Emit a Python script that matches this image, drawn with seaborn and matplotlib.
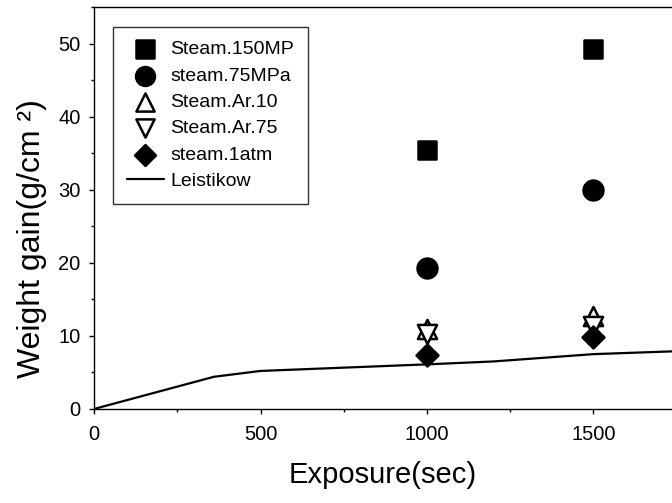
import pandas as pd
import matplotlib.pyplot as plt
import seaborn as sns
from matplotlib.ticker import MultipleLocator

# exposure times for the measured points
exposure = [1000, 1500]

steam_150 = [35.5, 49.2]
steam_75 = [19.3, 30.0]
ar_10 = [10.9, 12.7]
ar_75 = [10.3, 11.4]
steam_1atm = [7.4, 9.8]

# Leistikow correlation
leis_x = [0, 360, 500, 1000, 1200, 1500, 1750]
leis_y = [0, 4.4, 5.2, 6.1, 6.5, 7.5, 7.9]

sns.set_style('ticks')
plt.rcParams['font.family'] = ['Liberation Sans', 'DejaVu Sans']
for k in ['text.color', 'axes.labelcolor', 'xtick.color', 'ytick.color', 'axes.edgecolor']:
    plt.rcParams[k] = 'black'

fig = plt.figure(figsize=(6.72, 5.03), dpi=100)
ax = fig.add_axes([0.14, 0.187, 0.86, 0.799])

series = [
    ('Steam.150MP', steam_150, 's', 'black', 185),
    ('steam.75MPa', steam_75, 'o', 'black', 205),
    ('Steam.Ar.10', ar_10, '^', 'white', 190),
    ('Steam.Ar.75', ar_75, 'v', 'white', 190),
    ('steam.1atm', steam_1atm, 'D', 'black', 125),
]
for name, vals, mk, fc, sz in series:
    df = pd.DataFrame({'x': exposure, 'y': vals})
    sns.scatterplot(data=df, x='x', y='y', marker=mk, s=sz, color=fc,
                    edgecolor='black', linewidth=1.8, label=name, ax=ax, zorder=3)

sns.lineplot(x=leis_x, y=leis_y, color='black', linewidth=1.6,
             label='Leistikow', ax=ax, zorder=2)

ax.set_xlim(0, 1736)
ax.set_ylim(0, 55)
ax.xaxis.set_major_locator(MultipleLocator(500))
ax.xaxis.set_minor_locator(MultipleLocator(250))
ax.yaxis.set_major_locator(MultipleLocator(10))
ax.yaxis.set_minor_locator(MultipleLocator(5))
ax.tick_params(which='major', length=3.8, width=1.0, labelsize=14.5, direction='out')
ax.tick_params(which='minor', length=2.5, width=1.0, direction='out')
ax.tick_params(axis='x', which='major', pad=8)
ax.tick_params(axis='y', which='major', pad=6)
for s in ax.spines.values():
    s.set_linewidth(1.0)
ax.spines['right'].set_visible(False)

ax.set_xlabel('Exposure(sec)', fontsize=21, labelpad=12)
ax.set_ylabel('Weight gain(g/cm ²)', fontsize=23, labelpad=8)
ax.yaxis.label.set_y(0.425)

leg = ax.legend(loc='upper left', bbox_to_anchor=(0.033, 0.95), borderaxespad=0,
                fontsize=14, frameon=True, fancybox=False, edgecolor='black',
                handletextpad=0.35, borderpad=0.7, labelspacing=0.45,
                handlelength=1.9, markerscale=0.95)
leg.get_frame().set_linewidth(1.0)

plt.savefig('out.png', dpi=100)
